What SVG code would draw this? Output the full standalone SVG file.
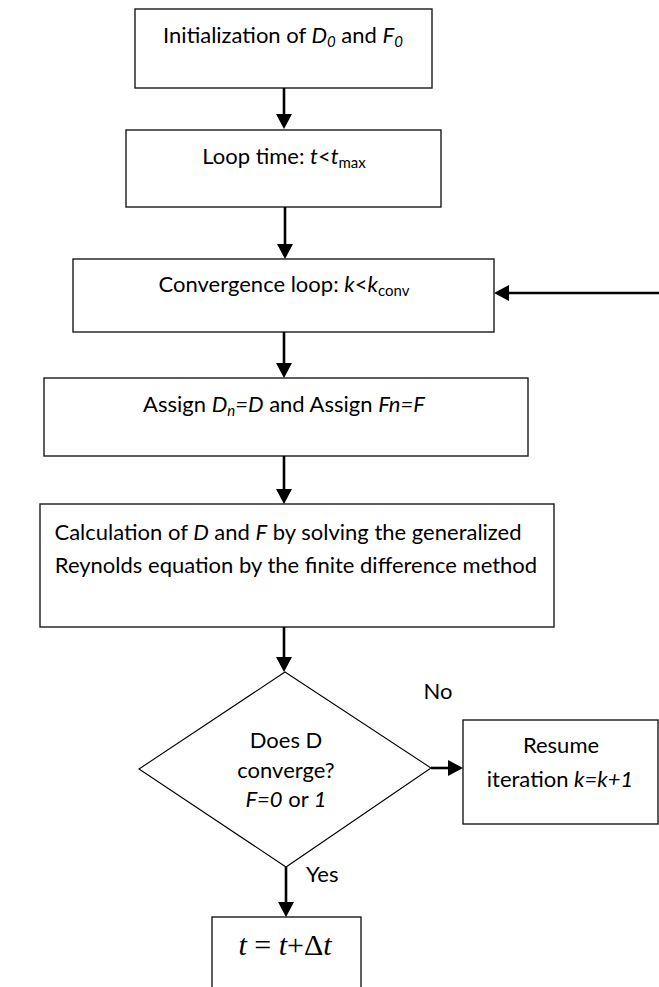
<svg xmlns="http://www.w3.org/2000/svg" width="659" height="987" viewBox="0 0 659 987">
<style>
.box{fill:#fff;stroke:#1a1a1a;stroke-width:1.4}
.dia{fill:#fff;stroke:#000;stroke-width:1.1}
.lbl{font-family:Lato,"Open Sans","Liberation Sans",sans-serif;font-size:22px;fill:#000;text-anchor:middle}
.st{font-family:Lato,"Open Sans","Liberation Sans",sans-serif;font-size:22px;fill:#000}
.i{font-style:italic}
.conn line{stroke:#000;stroke-width:2.6}
.math{font-family:"Liberation Serif","Times New Roman",serif;font-size:30px;fill:#000;text-anchor:middle}
</style>
<defs>
<marker id="ah" markerUnits="userSpaceOnUse" markerWidth="16" markerHeight="16" viewBox="0 0 16 16" refX="7" refY="8" orient="auto">
<path d="M0,0 L15,8 L0,16 Z" fill="#000"/>
</marker>
</defs>
<rect width="659" height="987" fill="#fff"/>

<g id="init">
<rect class="box" x="135" y="9" width="297" height="79"/>
<text class="lbl" x="283" y="43">Initialization of <tspan class="i">D</tspan><tspan class="i" font-size="15" dy="4">0</tspan><tspan dy="-4"> and </tspan><tspan class="i">F</tspan><tspan class="i" font-size="15" dy="4">0</tspan></text>
</g>

<g id="loop-time">
<rect class="box" x="126" y="130" width="315" height="77"/>
<text class="lbl" x="284" y="164">Loop time: <tspan class="i">t</tspan>&lt;<tspan class="i">t</tspan><tspan font-size="15" dy="4">max</tspan></text>
</g>

<g id="convergence-loop">
<rect class="box" x="73" y="259" width="421" height="73"/>
<text class="lbl" x="284" y="292">Convergence loop: <tspan class="i">k</tspan>&lt;<tspan class="i">k</tspan><tspan font-size="15" dy="4">conv</tspan></text>
</g>

<g id="assign">
<rect class="box" x="44" y="378" width="484" height="78"/>
<text class="lbl" x="284" y="412">Assign <tspan class="i">D</tspan><tspan class="i" font-size="15" dy="4">n</tspan><tspan class="i" dy="-4">=D</tspan> and Assign <tspan class="i">Fn=F</tspan></text>
</g>

<g id="calculation">
<rect class="box" x="40" y="504" width="514" height="123"/>
<text class="lbl" x="288" y="540">Calculation of <tspan class="i">D</tspan> and <tspan class="i">F</tspan> by solving the generalized</text>
<text class="lbl" x="296" y="573">Reynolds equation by the finite difference method</text>
</g>

<g id="decision">
<polygon class="dia" points="285,672 431,768 286,867 139,769"/>
<text class="lbl" x="286" y="748">Does D</text>
<text class="lbl" x="286" y="778">converge?</text>
<text class="lbl" x="286" y="807"><tspan class="i">F=0</tspan> or <tspan class="i">1</tspan></text>
</g>

<g id="resume">
<rect class="box" x="463" y="720" width="195" height="104"/>
<text class="lbl" x="561" y="753">Resume</text>
<text class="lbl" x="560" y="787">iteration <tspan class="i">k=k+1</tspan></text>
</g>

<g id="time-step">
<rect class="box" x="212" y="917" width="149" height="90"/>
<text class="math" x="285" y="955"><tspan font-style="italic">t</tspan> = <tspan font-style="italic">t</tspan>+Δ<tspan font-style="italic">t</tspan></text>
</g>

<g id="labels">
<text class="lbl" x="438" y="699">No</text>
<text class="st" x="306" y="882">Yes</text>
</g>

<g class="conn" id="connectors">
<line x1="284" y1="88" x2="284" y2="121" marker-end="url(#ah)"/>
<line x1="285" y1="207" x2="285" y2="251" marker-end="url(#ah)"/>
<line x1="284" y1="332" x2="284" y2="370" marker-end="url(#ah)"/>
<line x1="284" y1="456" x2="284" y2="496" marker-end="url(#ah)"/>
<line x1="284" y1="627" x2="284" y2="664" marker-end="url(#ah)"/>
<line x1="431" y1="768" x2="455" y2="768" marker-end="url(#ah)"/>
<line x1="286" y1="867" x2="286" y2="909" marker-end="url(#ah)"/>
<line x1="659" y1="293" x2="502" y2="293" marker-end="url(#ah)"/>
</g>
</svg>
